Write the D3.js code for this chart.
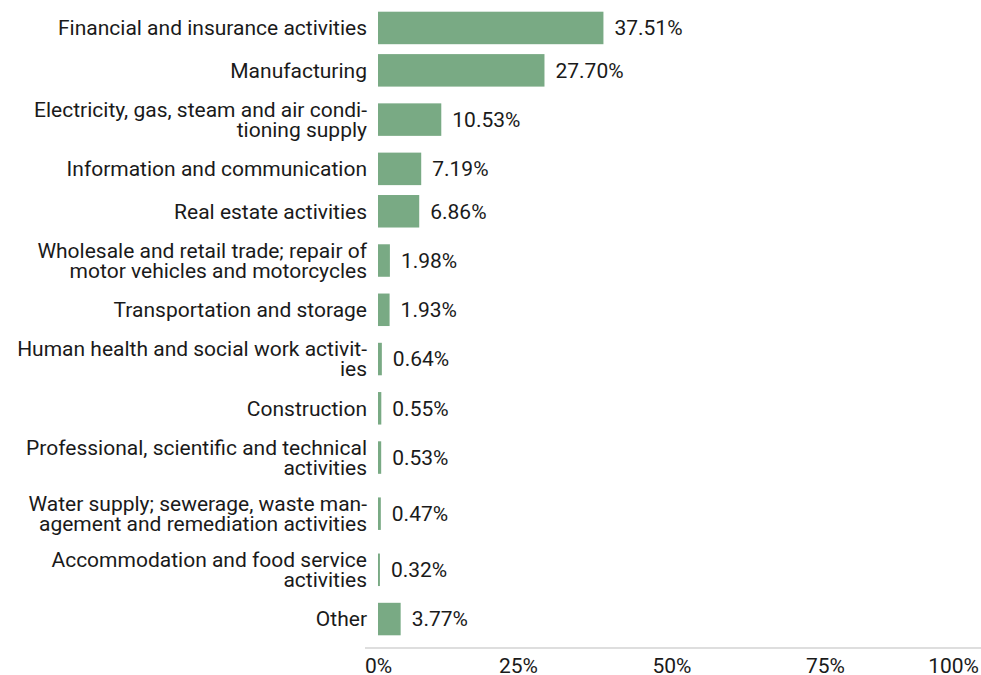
<!DOCTYPE html>
<html>
<head>
<meta charset="utf-8">
<script src="https://cdn.jsdelivr.net/npm/d3@7"></script>
<style>
  body { margin: 0; background: #fff; }
  text { font-family: Roboto, "Liberation Sans", sans-serif; fill: #1a1a1a; }
</style>
</head>
<body>
<svg id="chart"></svg>
<script>
// sector labels, already split into lines (hyphenated as in the source)
var sectors = [
  ["Financial and insurance activities"],
  ["Manufacturing"],
  ["Electricity, gas, steam and air condi-", "tioning supply"],
  ["Information and communication"],
  ["Real estate activities"],
  ["Wholesale and retail trade; repair of", "motor vehicles and motorcycles"],
  ["Transportation and storage"],
  ["Human health and social work activit-", "ies"],
  ["Construction"],
  ["Professional, scientific and technical", "activities"],
  ["Water supply; sewerage, waste man-", "agement and remediation activities"],
  ["Accommodation and food service", "activities"],
  ["Other"]
];
var shares = [37.51, 27.70, 10.53, 7.19, 6.86, 1.98, 1.93, 0.64, 0.55, 0.53, 0.47, 0.32, 3.77];
var tickValues = [0, 25, 50, 75, 100];

function drawChart() {
  const width = 981,
    height = 675,
    barLeft = 378,
    barRight = 979,
    axisLeft = 365,
    axisY = 648,
    barHeight = 32.5,
    lineGap = 20,
    fontSize = 21,
    barColor = "#79aa84";

  // rows with a two-line label get a taller slot
  var rows = [];
  var acc = 0;
  sectors.forEach(function (lines, i) {
    var units = lines.length > 1 ? 1.3235 : 1;
    rows.push({lines: lines, value: shares[i], start: acc, units: units});
    acc += units;
  });

  const x = d3.scaleLinear().domain([0, 100]).range([barLeft, barRight]);
  const xAxis = d3.scaleLinear().domain([0, 100]).range([axisLeft, barRight]);
  const y = d3.scaleLinear().domain([0, acc]).range([6.75, 640.25]);

  const svg = d3.select("#chart")
    .attr("width", width)
    .attr("height", height);

  const row = svg.selectAll(".row")
    .data(rows)
    .enter()
    .append("g")
    .attr("class", "row")
    .attr("transform", (d) => "translate(0," + y(d.start + d.units / 2) + ")");

  row.append("rect")
    .attr("x", x(0))
    .attr("y", -barHeight / 2)
    .attr("width", (d) => x(d.value) - x(0))
    .attr("height", barHeight)
    .style("fill", barColor);

  row.append("text")
    .attr("x", (d) => x(d.value) + 11)
    .attr("dy", "0.35em")
    .style("font-size", fontSize + "px")
    .text((d) => d3.format(".2f")(d.value) + "%");

  row.each(function (d) {
    var g = d3.select(this);
    var n = d.lines.length;
    g.selectAll(".lbl")
      .data(d.lines)
      .enter()
      .append("text")
      .attr("class", "lbl")
      .attr("x", barLeft - 11)
      .attr("y", (l, i) => (i - (n - 1) / 2) * lineGap)
      .attr("dy", "0.35em")
      .style("text-anchor", "end")
      .style("font-size", fontSize + "px")
      .text((l) => l);
  });

  svg.append("line")
    .attr("x1", axisLeft)
    .attr("x2", width)
    .attr("y1", axisY)
    .attr("y2", axisY)
    .style("stroke", "#dedede")
    .style("stroke-width", 2);

  svg.selectAll(".tick")
    .data(tickValues)
    .enter()
    .append("text")
    .attr("class", "tick")
    .attr("x", (d) => xAxis(d))
    .attr("y", 673)
    .style("font-size", fontSize + "px")
    .style("text-anchor", (d, i) => i === 0 ? "start" : (i === tickValues.length - 1 ? "end" : "middle"))
    .text((d) => d + "%");
}

drawChart();
</script>
</body>
</html>
